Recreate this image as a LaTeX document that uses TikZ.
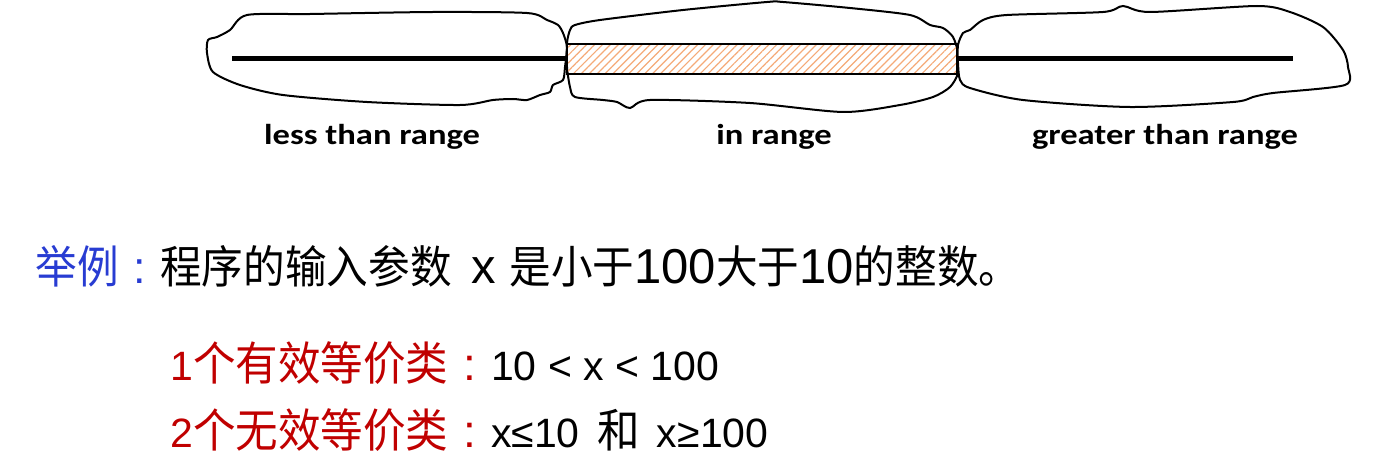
\documentclass[tikz,border=0pt]{standalone}
\usepackage{fontspec}
\newfontfamily\lblfont[FakeStretch=1.2]{Carlito}
\newfontfamily\cjk[FakeStretch=0.925]{Noto Sans CJK SC}
\newfontfamily\arialfont{Liberation Sans}
\usetikzlibrary{patterns.meta, positioning}
\definecolor{exblue}{RGB}{40,60,210}
\definecolor{clsred}{RGB}{192,0,0}
\definecolor{hatchorange}{RGB}{245,170,120}
\newcommand{\exnum}[1]{{\arialfont\fontsize{24.5}{27}\selectfont #1}}
\newcommand{\clsnum}[1]{{\arialfont\fontsize{20.5}{25}\selectfont #1}}
\newcommand{\fwcolon}{\makebox[0.925em][c]{\arialfont :}}

\begin{document}
\begin{tikzpicture}[
  x=0.5pt, y=-0.5pt,
  blob/.style={draw, line width=1pt, fill=white},
  rangeline/.style={line width=2.5pt},
  hatchbox/.style={draw, line width=0.75pt, pattern={Lines[angle=45, distance=2.8pt, line width=0.6pt]}, pattern color=hatchorange},
  lbl/.style={font=\lblfont\bfseries\fontsize{14.4}{17}\selectfont, anchor=base, inner sep=0pt},
  txt/.style={font=\cjk\fontsize{22.5}{27}\selectfont, anchor=base west, inner sep=0pt},
  clstxt/.style={txt, font=\cjk\fontsize{23}{27}\selectfont}
  ]
  \useasboundingbox (0,0) rectangle (1385,465);

  \draw[blob] plot[smooth cycle, tension=0.45] coordinates {
    (247,15) (310,14) (433,12) (527,13) (547,20) (558,25) (563,33) (567,47)
    (565,67) (563,80) (553,85) (550,92) (540,95) (527,100) (513,99) (493,100)
    (460,105) (367,102) (283,95) (240,85) (213,72) (207,53) (208,40) (217,37) (230,30)};
  \draw[blob] plot[smooth cycle, tension=0.45] coordinates {
    (575,25) (600,20) (683,10) (767,2) (783,2) (850,8) (910,15) (930,25) (943,28)
    (953,37) (958,53) (958,73) (950,87) (933,97) (900,105) (843,112) (750,103)
    (650,100) (630,108) (617,102) (603,100) (575,97) (570,87) (567,67) (567,43) (570,30)};
  \draw[blob] plot[smooth cycle, tension=0.45] coordinates {
    (958,45) (963,33) (970,30) (983,20) (1007,15) (1103,12) (1123,6) (1150,12)
    (1257,6) (1290,12) (1323,27) (1343,50) (1348,67) (1345,85) (1273,93) (1253,97)
    (1233,102) (1130,107) (1023,100) (970,88) (960,80) (958,63)};

  \coordinate (lessstart) at (232,59);
  \coordinate (lessend) at (567,59);
  \coordinate (greaterstart) at (957,59);
  \coordinate (greaterend) at (1293,59);
  \draw[rangeline] (lessstart) -- (lessend);
  \draw[rangeline] (greaterstart) -- (greaterend);
  \draw[hatchbox] (567,44) rectangle (957,74);

  \node[lbl] (lesslbl) at (372,144) {less than range};
  \node[lbl] (inlbl) at (774,144) {in range};
  \node[lbl] (greaterlbl) at (1165,144) {greater than range};

  \node[txt] (example) at (35,283) {\textcolor{exblue}{举例\fwcolon}程序的输入参数\hspace{3pt}\exnum{\ x\ }是小于\exnum{100}大于\exnum{10}的整数。};
  \node[clstxt] (validcls) at (170,380) {\textcolor{clsred}{\clsnum{1}个有效等价类\fwcolon}\clsnum{10 < x < 100}};
  \node[clstxt] (invalidcls) at (170,447) {\textcolor{clsred}{\clsnum{2}个无效等价类\fwcolon}\clsnum{x≤10\ }\hspace{3pt}和\hspace{3pt}\clsnum{\ x≥100}};
\end{tikzpicture}
\end{document}
